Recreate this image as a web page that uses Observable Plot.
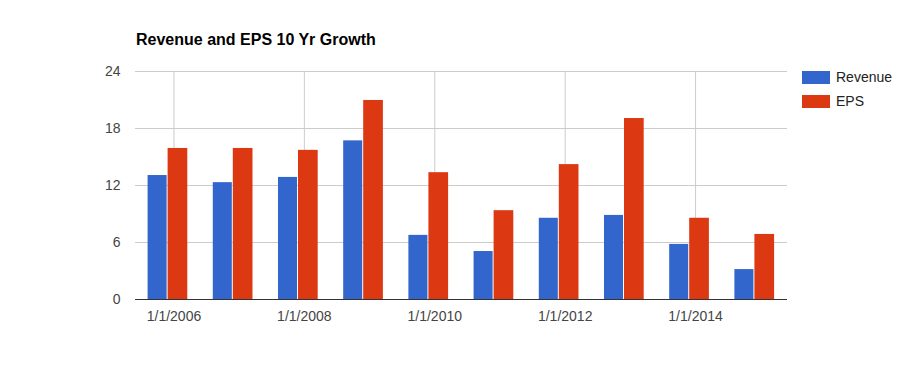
<!DOCTYPE html>
<html>
<head>
<meta charset="utf-8">
<script src="https://cdn.jsdelivr.net/npm/d3@7"></script>
<script src="https://cdn.jsdelivr.net/npm/@observablehq/plot@0.6"></script>
<style>
  html, body { margin: 0; padding: 0; background: #fff; }
  #wrap { position: relative; width: 923px; height: 371px; font-family: "Liberation Sans", Arial, sans-serif; }
  #title { position: absolute; left: 136px; top: 31px; font-size: 16px; font-weight: bold; color: #000; white-space: nowrap; }
  .leg { position: absolute; left: 802px; font-size: 14px; color: #222; white-space: nowrap; }
  .sw { position: absolute; left: 0; top: 0; width: 28px; height: 13px; }
  .lt { position: absolute; left: 34px; top: -2px; }
  #chart { position: absolute; left: 0; top: 0; }
</style>
</head>
<body>
<div id="wrap">
  <div id="chart"></div>
  <div id="title">Revenue and EPS 10 Yr Growth</div>
  <div id="legend"></div>
</div>
<script>
// Data
const years = [2006, 2007, 2008, 2009, 2010, 2011, 2012, 2013, 2014, 2015];
const revenue = [13.05, 12.3, 12.85, 16.7, 6.75, 5.05, 8.55, 8.85, 5.8, 3.15];
const eps = [15.9, 15.9, 15.7, 20.95, 13.35, 9.35, 14.2, 19.05, 8.55, 6.85];
const seriesNames = ["Revenue", "EPS"];
const seriesColors = ["#3366cc", "#dc3912"];
const xTicks = [2006, 2008, 2010, 2012, 2014];
const yTicks = [0, 6, 12, 18, 24];

// Bar placement within a year (in year units)
const slot = {Revenue: [-0.397, -0.105], EPS: [-0.090, 0.212]};

const rows = [];
years.forEach((y, i) => {
  rows.push({year: y, series: "Revenue", value: revenue[i]});
  rows.push({year: y, series: "EPS", value: eps[i]});
});

const font = "Liberation Sans, Arial, sans-serif";

const chart = Plot.plot({
  width: 923,
  height: 371,
  marginLeft: 135,
  marginRight: 136,
  marginTop: 71,
  marginBottom: 72,
  style: {fontFamily: font, fontSize: "14px", color: "#444", background: "transparent"},
  x: {type: "linear", domain: [2005.41, 2015.41]},
  y: {domain: [0, 24]},
  color: {domain: seriesNames, range: seriesColors},
  marks: [
    Plot.gridY(yTicks.filter(d => d > 0), {stroke: "#cccccc", strokeOpacity: 1}),
    Plot.gridX(xTicks, {stroke: "#cccccc", strokeOpacity: 1}),
    Plot.rectY(rows, {
      x1: d => d.year + slot[d.series][0],
      x2: d => d.year + slot[d.series][1],
      y1: 0,
      y2: "value",
      fill: "series"
    }),
    Plot.ruleY([0], {stroke: "#333333", strokeWidth: 1}),
    Plot.axisY(yTicks, {tickSize: 0, tickPadding: 15, fill: "#444", label: null, fontSize: 14}),
    Plot.axisX(xTicks, {tickSize: 0, tickPadding: 12, fill: "#444", label: null, fontSize: 14, tickFormat: d => `1/1/${d}`})
  ]
});
document.getElementById("chart").appendChild(chart);

// Legend
const legend = document.getElementById("legend");
seriesNames.forEach((name, i) => {
  const row = document.createElement("div");
  row.className = "leg";
  row.style.top = (71 + i * 23.5) + "px";
  const sw = document.createElement("div");
  sw.className = "sw";
  sw.style.background = seriesColors[i];
  const t = document.createElement("div");
  t.className = "lt";
  t.textContent = name;
  row.appendChild(sw);
  row.appendChild(t);
  legend.appendChild(row);
});
</script>
</body>
</html>
